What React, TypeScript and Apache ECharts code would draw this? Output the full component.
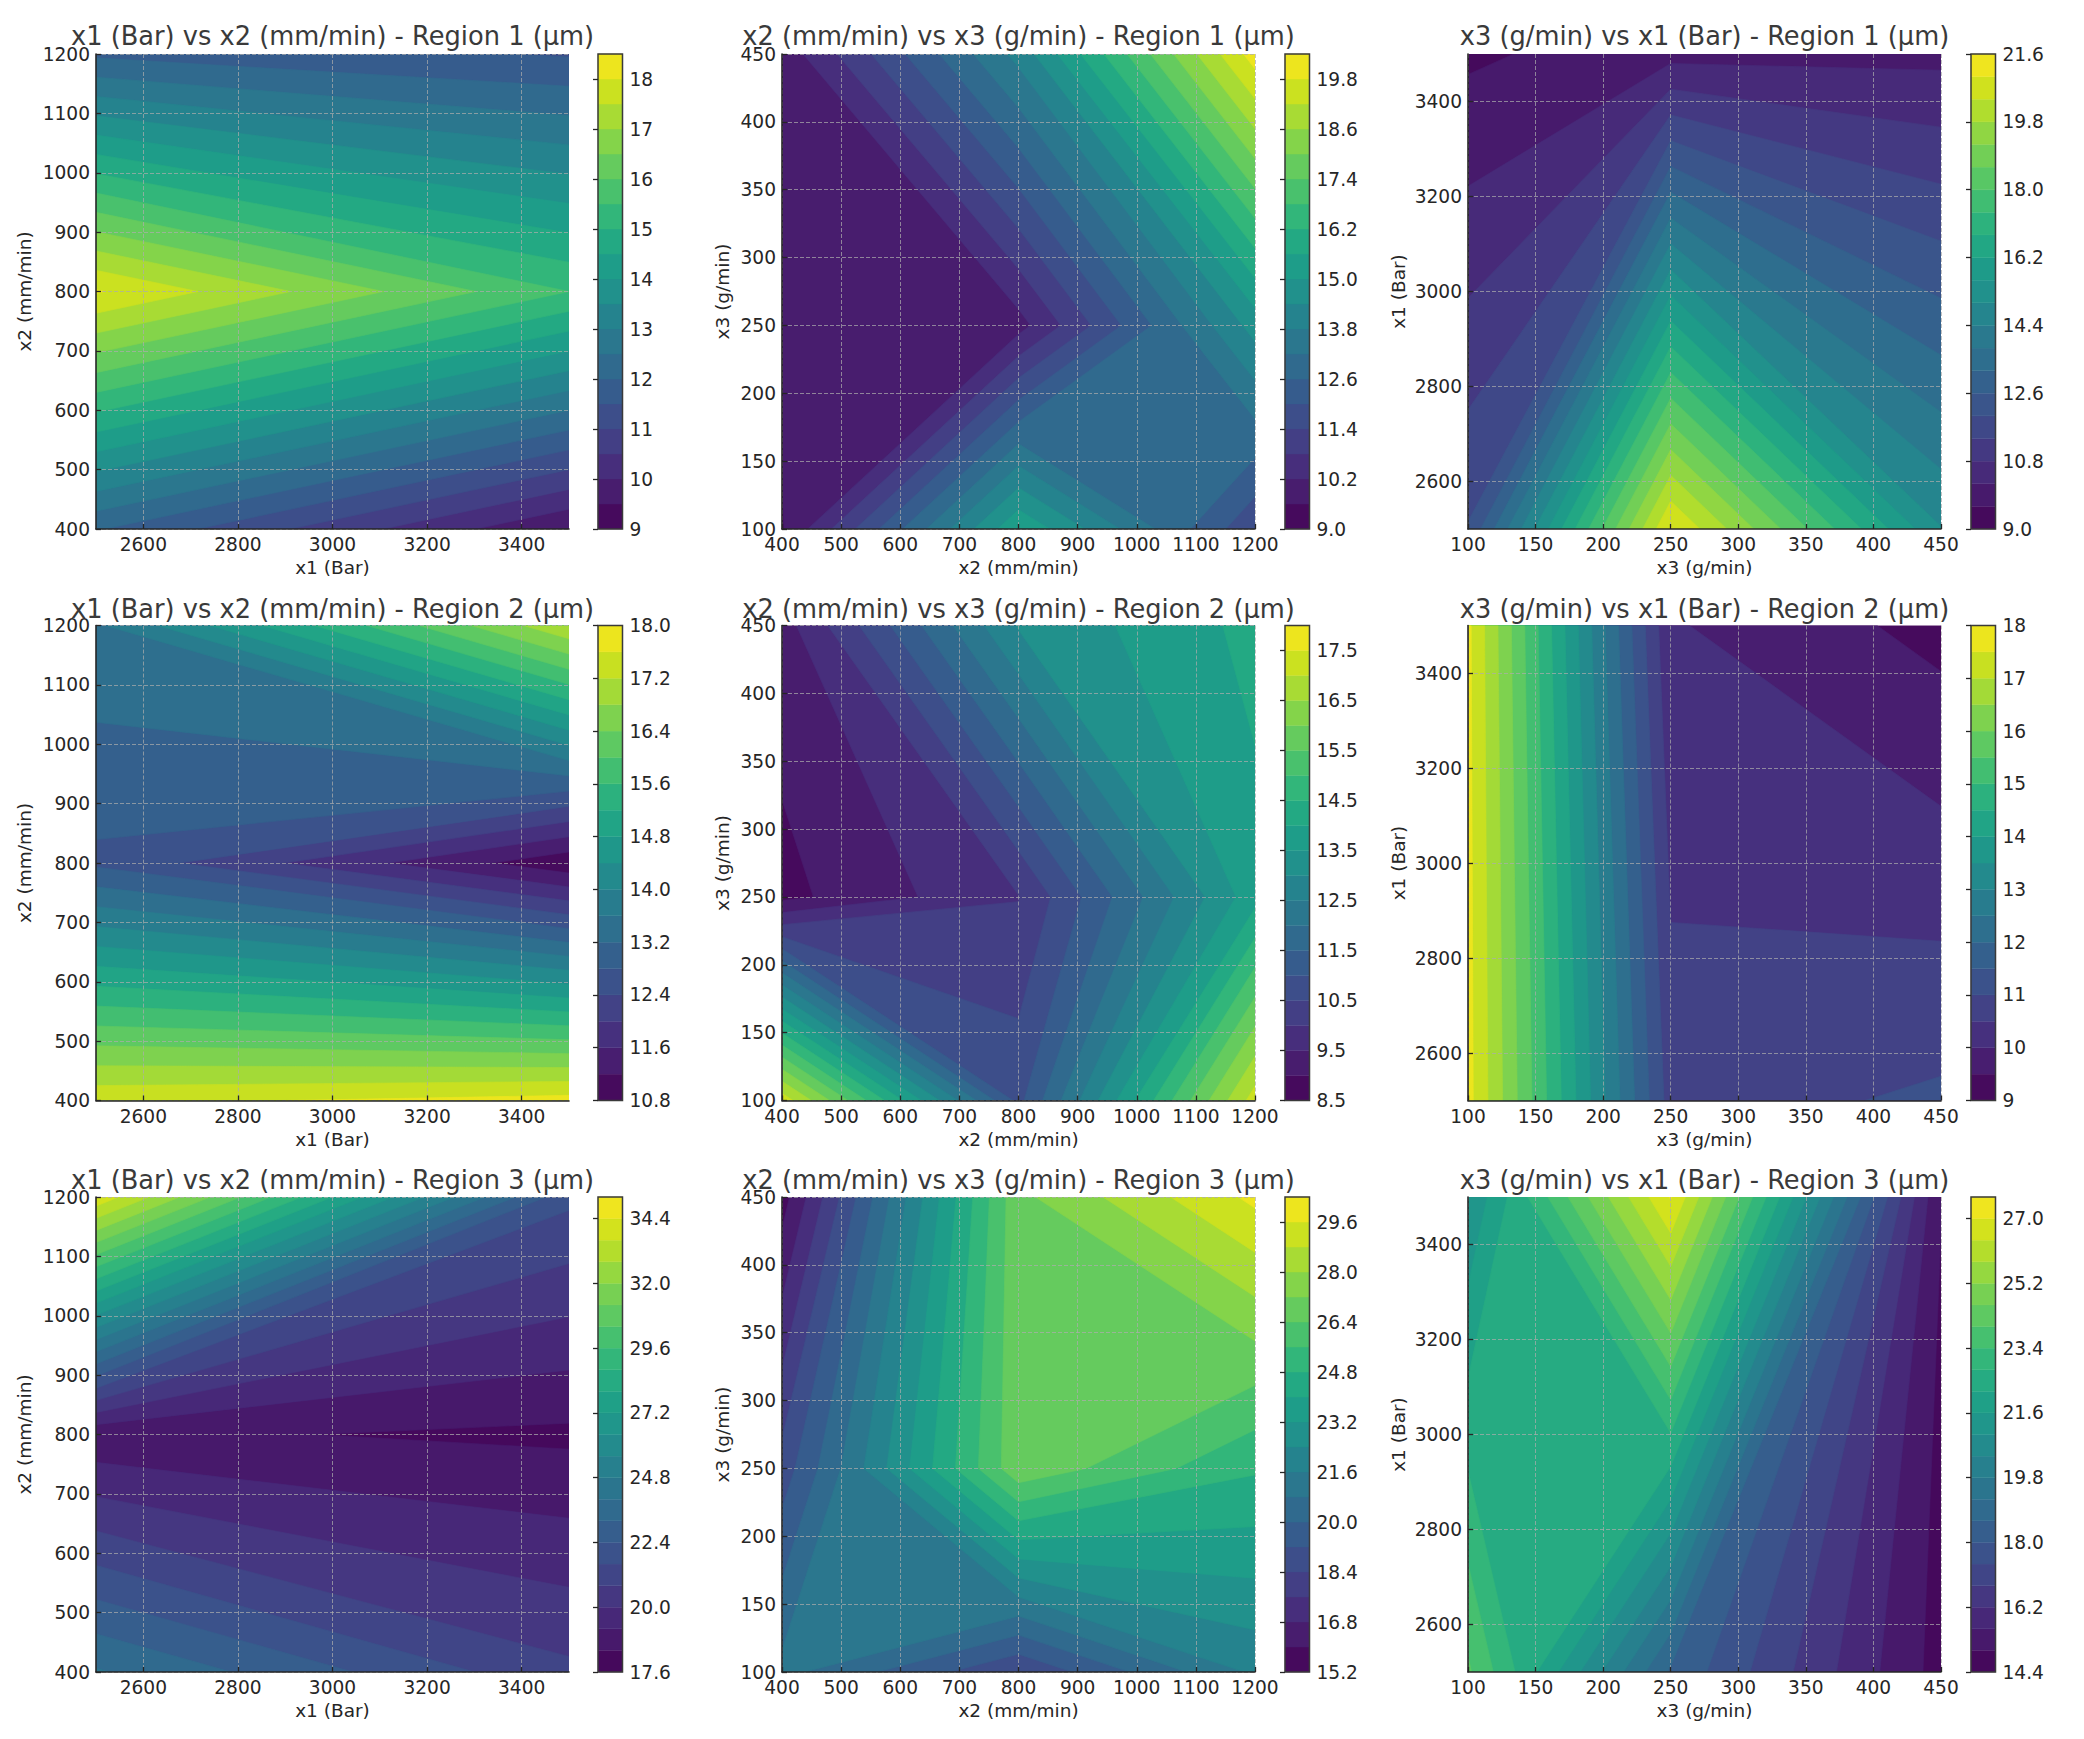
import React, { useEffect, useRef } from "react";
import * as echarts from "echarts";

// grid nodes of the contoured tables
const X1_NODES = [2500, 3500];
const X2_NODES = [400, 800, 1200];
const X3_NODES = [100, 250, 450];

// tick labels
const X1_TICKS = [2600, 2800, 3000, 3200, 3400];
const X2_TICKS = [400, 500, 600, 700, 800, 900, 1000, 1100, 1200];
const X3_TICKS = [100, 150, 200, 250, 300, 350, 400, 450];

// measured values: one row per y node, one column per x node
const R1_X1X2 = [[12.05, 9.5], [18.05, 15.5], [11.9, 11.45]];
const R1_X2X3 = [[9.55, 15.53, 11.5], [9.8, 9.96, 14.65], [9.83, 14.0, 20.1]];
const R1_X3X1 = [[12.04, 21.05, 15.03], [9.49, 9.98, 10.03]];
const R2_X1X2 = [[17.5, 17.75], [12.72, 10.91], [13.53, 17.15]];
const R2_X2X3 = [[17.3, 10.85, 17.24], [8.85, 9.98, 13.81], [9.27, 13.05, 14.15]];
const R2_X3X1 = [[17.68, 10.77, 11.09], [17.62, 10.05, 9.33]];
const R3_X1X2 = [[24.09, 20.98], [18.55, 18.23], [34.2, 21.8]];
const R3_X2X3 = [[21.05, 18.45, 21.75], [18.75, 27.0, 24.9], [15.64, 27.0, 29.8]];
const R3_X3X1 = [[24.1, 18.5, 14.75], [21.03, 27.05, 15.02]];

// contour levels
const L_R1_X1X2 = [9, 9.5, 10, 10.5, 11, 11.5, 12, 12.5, 13, 13.5, 14, 14.5, 15, 15.5, 16, 16.5, 17, 17.5, 18, 18.5];
const L_R1_X2X3 = [9, 9.6, 10.2, 10.8, 11.4, 12, 12.6, 13.2, 13.8, 14.4, 15, 15.6, 16.2, 16.8, 17.4, 18, 18.6, 19.2, 19.8, 20.4];
const L_R1_X3X1 = [9, 9.6, 10.2, 10.8, 11.4, 12, 12.6, 13.2, 13.8, 14.4, 15, 15.6, 16.2, 16.8, 17.4, 18, 18.6, 19.2, 19.8, 20.4, 21, 21.6];
const L_R2_X1X2 = [10.8, 11.2, 11.6, 12, 12.4, 12.8, 13.2, 13.6, 14, 14.4, 14.8, 15.2, 15.6, 16, 16.4, 16.8, 17.2, 17.6, 18];
const L_R2_X2X3 = [8.5, 9, 9.5, 10, 10.5, 11, 11.5, 12, 12.5, 13, 13.5, 14, 14.5, 15, 15.5, 16, 16.5, 17, 17.5, 18];
const L_R2_X3X1 = [9, 9.5, 10, 10.5, 11, 11.5, 12, 12.5, 13, 13.5, 14, 14.5, 15, 15.5, 16, 16.5, 17, 17.5, 18];
const L_R3_X1X2 = [17.6, 18.4, 19.2, 20, 20.8, 21.6, 22.4, 23.2, 24, 24.8, 25.6, 26.4, 27.2, 28, 28.8, 29.6, 30.4, 31.2, 32, 32.8, 33.6, 34.4, 35.2];
const L_R3_X2X3 = [15.2, 16, 16.8, 17.6, 18.4, 19.2, 20, 20.8, 21.6, 22.4, 23.2, 24, 24.8, 25.6, 26.4, 27.2, 28, 28.8, 29.6, 30.4];
const L_R3_X3X1 = [14.4, 15, 15.6, 16.2, 16.8, 17.4, 18, 18.6, 19.2, 19.8, 20.4, 21, 21.6, 22.2, 22.8, 23.4, 24, 24.6, 25.2, 25.8, 26.4, 27, 27.6];

// colour-bar tick labels
const C_R1_X1X2 = [9, 10, 11, 12, 13, 14, 15, 16, 17, 18];
const C_R1_X2X3 = [9, 10.2, 11.4, 12.6, 13.8, 15, 16.2, 17.4, 18.6, 19.8];
const C_R1_X3X1 = [9, 10.8, 12.6, 14.4, 16.2, 18, 19.8, 21.6];
const C_R2_X1X2 = [10.8, 11.6, 12.4, 13.2, 14, 14.8, 15.6, 16.4, 17.2, 18];
const C_R2_X2X3 = [8.5, 9.5, 10.5, 11.5, 12.5, 13.5, 14.5, 15.5, 16.5, 17.5];
const C_R2_X3X1 = [9, 10, 11, 12, 13, 14, 15, 16, 17, 18];
const C_R3_X1X2 = [17.6, 20, 22.4, 24.8, 27.2, 29.6, 32, 34.4];
const C_R3_X2X3 = [15.2, 16.8, 18.4, 20, 21.6, 23.2, 24.8, 26.4, 28, 29.6];
const C_R3_X3X1 = [14.4, 16.2, 18, 19.8, 21.6, 23.4, 25.2, 27];

const VIRIDIS = ["#440154", "#471365", "#482475", "#463480", "#414487", "#3b528b", "#355f8d", "#2f6c8e", "#2a788e", "#25848e", "#21918c", "#1e9c89", "#22a884", "#2fb47c", "#44bf70", "#5ec962", "#7ad151", "#9bd93c", "#bddf26", "#dfe318", "#fde725"];

const FONT = "DejaVu Sans";
const INK = "#262626";

const ROW_TOP = [54, 625.5, 1197];
const PLOT_H = 475;
const COL_LEFT = [96, 782, 1468];
const PLOT_W = 473;
const BAR_LEFT = [598, 1285, 1971];
const BAR_W = 24.5;
const TITLE_TOP = [23, 596, 1167];
const YNAME_GAP = [62, 50, 60];

function hex(c: string) {
  return [1, 3, 5].map((i) => parseInt(c.slice(i, i + 2), 16));
}
function viridis(t: number) {
  const p = Math.max(0, Math.min(1, t)) * (VIRIDIS.length - 1);
  const i = Math.min(VIRIDIS.length - 2, Math.floor(p));
  const a = hex(VIRIDIS[i]);
  const b = hex(VIRIDIS[i + 1]);
  const f = p - i;
  return `rgb(${a.map((v, k) => Math.round(v + (b[k] - v) * f)).join(",")})`;
}
function bandColour(levels: number[], i: number) {
  const mid = (levels[i] + levels[i + 1]) / 2;
  return viridis((mid - levels[0]) / (levels[levels.length - 1] - levels[0]));
}

type Pt = [number, number];

// Marching squares for the region z >= level in one quad, saddles settled by the quad's mean.
function quadRegion(corners: Pt[], z: number[], level: number): Pt[][] {
  const inside = z.map((v) => v >= level);
  const count = inside.filter(Boolean).length;
  if (count === 0) return [];
  if (count === 4) return [corners];
  const cross = (i: number): Pt => {
    const j = (i + 1) % 4;
    const t = (level - z[i]) / (z[j] - z[i]);
    return [corners[i][0] + (corners[j][0] - corners[i][0]) * t, corners[i][1] + (corners[j][1] - corners[i][1]) * t];
  };
  const saddle = count === 2 && inside[0] === inside[2];
  const mean = (z[0] + z[1] + z[2] + z[3]) / 4;
  if (saddle && mean < level) {
    const out: Pt[][] = [];
    for (let i = 0; i < 4; i++) {
      if (inside[i]) out.push([cross((i + 3) % 4), corners[i], cross(i)]);
    }
    return out;
  }
  const poly: Pt[] = [];
  for (let i = 0; i < 4; i++) {
    if (inside[i]) poly.push(corners[i]);
    if (inside[i] !== inside[(i + 1) % 4]) poly.push(cross(i));
  }
  return [poly];
}

function levelRegions(xs: number[], ys: number[], zz: number[][], level: number): Pt[][] {
  const out: Pt[][] = [];
  for (let r = 0; r < ys.length - 1; r++) {
    for (let c = 0; c < xs.length - 1; c++) {
      const corners: Pt[] = [[xs[c], ys[r]], [xs[c + 1], ys[r]], [xs[c + 1], ys[r + 1]], [xs[c], ys[r + 1]]];
      const z = [zz[r][c], zz[r][c + 1], zz[r + 1][c + 1], zz[r + 1][c]];
      out.push(...quadRegion(corners, z, level));
    }
  }
  return out;
}

const AXES: Record<string, { name: string; nodes: number[]; ticks: number[] }> = {
  x1: { name: "x1 (Bar)", nodes: X1_NODES, ticks: X1_TICKS },
  x2: { name: "x2 (mm/min)", nodes: X2_NODES, ticks: X2_TICKS },
  x3: { name: "x3 (g/min)", nodes: X3_NODES, ticks: X3_TICKS },
};

const PANELS = [
  { row: 0, col: 0, a: "x1", b: "x2", zz: R1_X1X2, levels: L_R1_X1X2, cticks: C_R1_X1X2, digits: 0 },
  { row: 0, col: 1, a: "x2", b: "x3", zz: R1_X2X3, levels: L_R1_X2X3, cticks: C_R1_X2X3, digits: 1 },
  { row: 0, col: 2, a: "x3", b: "x1", zz: R1_X3X1, levels: L_R1_X3X1, cticks: C_R1_X3X1, digits: 1 },
  { row: 1, col: 0, a: "x1", b: "x2", zz: R2_X1X2, levels: L_R2_X1X2, cticks: C_R2_X1X2, digits: 1 },
  { row: 1, col: 1, a: "x2", b: "x3", zz: R2_X2X3, levels: L_R2_X2X3, cticks: C_R2_X2X3, digits: 1 },
  { row: 1, col: 2, a: "x3", b: "x1", zz: R2_X3X1, levels: L_R2_X3X1, cticks: C_R2_X3X1, digits: 0 },
  { row: 2, col: 0, a: "x1", b: "x2", zz: R3_X1X2, levels: L_R3_X1X2, cticks: C_R3_X1X2, digits: 1 },
  { row: 2, col: 1, a: "x2", b: "x3", zz: R3_X2X3, levels: L_R3_X2X3, cticks: C_R3_X2X3, digits: 1 },
  { row: 2, col: 2, a: "x3", b: "x1", zz: R3_X3X1, levels: L_R3_X3X1, cticks: C_R3_X3X1, digits: 1 },
];

function buildOption() {
  const title: any[] = [];
  const grid: any[] = [];
  const xAxis: any[] = [];
  const yAxis: any[] = [];
  const series: any[] = [];
  const tick = { inside: true, length: 5, lineStyle: { color: INK, width: 1.3 } };
  const plain = (v: number) => String(v);
  const label = { fontFamily: FONT, fontSize: 18.6, color: INK, margin: 6, hideOverlap: false };
  const split = { show: true, lineStyle: { color: "rgba(172,172,172,0.72)", width: 1, type: [4, 2] } };
  const name = { fontFamily: FONT, fontSize: 18.5, color: INK };

  PANELS.forEach((p) => {
    const A = AXES[p.a];
    const B = AXES[p.b];
    const left = COL_LEFT[p.col];
    const top = ROW_TOP[p.row];
    title.push({
      text: `${A.name} vs ${B.name} - Region ${p.row + 1} (µm)`,
      left: left + PLOT_W / 2,
      top: TITLE_TOP[p.row],
      textAlign: "center",
      padding: 0,
      textStyle: { fontFamily: FONT, fontSize: 25.7, fontWeight: "normal", color: "#3a3a3a" },
    });
    const plotIndex = grid.length;
    grid.push({ left, top, width: PLOT_W, height: PLOT_H, containLabel: false });
    grid.push({ left: BAR_LEFT[p.col], top, width: BAR_W, height: PLOT_H, containLabel: false });

    xAxis.push({
      type: "value",
      gridIndex: plotIndex,
      min: A.nodes[0],
      max: A.nodes[A.nodes.length - 1],
      z: 3,
      name: A.name,
      nameLocation: "middle",
      nameGap: 29,
      nameTextStyle: name,
      axisLine: { show: true, onZero: false, lineStyle: { color: INK, width: 1.6 } },
      axisTick: { ...tick, customValues: A.ticks },
      axisLabel: { ...label, customValues: A.ticks, formatter: plain },
      splitLine: split,
    });
    yAxis.push({
      type: "value",
      gridIndex: plotIndex,
      min: B.nodes[0],
      max: B.nodes[B.nodes.length - 1],
      z: 3,
      name: B.name,
      nameLocation: "middle",
      nameGap: YNAME_GAP[p.col],
      nameTextStyle: name,
      axisLine: { show: true, onZero: false, lineStyle: { color: INK, width: 1.6 } },
      axisTick: { ...tick, customValues: B.ticks },
      axisLabel: { ...label, customValues: B.ticks, formatter: plain },
      splitLine: split,
    });
    series.push({
      type: "custom",
      xAxisIndex: plotIndex,
      yAxisIndex: plotIndex,
      z: 1,
      silent: true,
      clip: true,
      encode: { x: 0, y: 1 },
      data: p.levels.slice(0, -1).map((_, i) => [A.nodes[0], B.nodes[0], i]),
      renderItem: (_params: any, api: any) => {
        const i = api.value(2);
        const fill = bandColour(p.levels, i);
        const regions = levelRegions(A.nodes, B.nodes, p.zz, p.levels[i]);
        return {
          type: "group",
          children: regions.map((poly) => ({
            type: "polygon",
            z2: i,
            shape: { points: poly.map((pt) => api.coord(pt)) },
            style: { fill, stroke: fill, lineWidth: 0.6 },
          })),
        };
      },
    });

    const barIndex = plotIndex + 1;
    const lo = p.levels[0];
    const hi = p.levels[p.levels.length - 1];
    xAxis.push({ type: "value", gridIndex: barIndex, min: 0, max: 1, show: false });
    yAxis.push({
      type: "value",
      gridIndex: barIndex,
      position: "right",
      min: lo,
      max: hi,
      z: 3,
      axisLine: { show: false },
      axisTick: { ...tick, customValues: p.cticks },
      axisLabel: { ...label, margin: 7, customValues: p.cticks, formatter: (v: number) => v.toFixed(p.digits) },
      splitLine: { show: false },
    });
    series.push({
      type: "custom",
      xAxisIndex: barIndex,
      yAxisIndex: barIndex,
      z: 1,
      silent: true,
      clip: false,
      encode: { x: 0, y: 1 },
      data: p.levels.slice(0, -1).map((l, i) => [0, l, p.levels[i + 1], i]),
      renderItem: (_params: any, api: any) => {
        const i = api.value(3);
        const a = api.coord([0, api.value(1)]);
        const b = api.coord([1, api.value(2)]);
        const fill = bandColour(p.levels, i);
        const children: any[] = [
          { type: "rect", z2: 1, shape: { x: a[0], y: b[1], width: b[0] - a[0], height: a[1] - b[1] }, style: { fill, stroke: fill, lineWidth: 0.4 } },
        ];
        if (i === p.levels.length - 2) {
          const f0 = api.coord([0, lo]);
          const f1 = api.coord([1, hi]);
          children.push({
            type: "rect",
            z2: 5,
            shape: { x: f0[0], y: f1[1], width: f1[0] - f0[0], height: f0[1] - f1[1] },
            style: { fill: "none", stroke: "#3a3a3a", lineWidth: 1.5 },
          });
        }
        return { type: "group", children };
      },
    });
  });

  return { animation: false, backgroundColor: "#ffffff", title, grid, xAxis, yAxis, series };
}

export default function App() {
  const ref = useRef<HTMLDivElement>(null);
  useEffect(() => {
    document.body.style.margin = "0";
    const chart = echarts.init(ref.current!, undefined, { renderer: "svg" });
    chart.setOption(buildOption() as any);
    return () => chart.dispose();
  }, []);
  return <div ref={ref} style={{ width: 2084, height: 1739 }} />;
}
